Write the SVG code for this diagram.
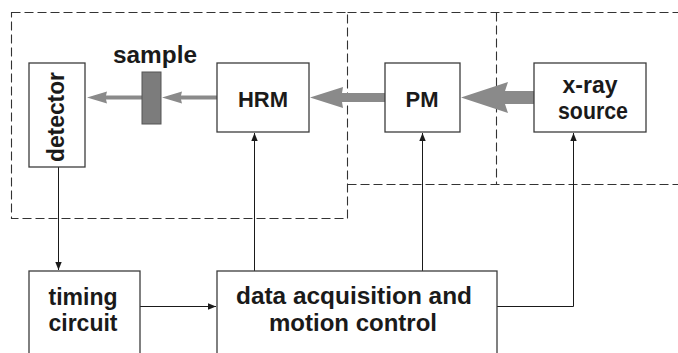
<svg xmlns="http://www.w3.org/2000/svg" width="678" height="353" viewBox="0 0 678 353">
<style>
.box{fill:#fff;stroke:#3c3c3c;stroke-width:1.3}
.dash{fill:none;stroke:#333;stroke-width:1.1;stroke-dasharray:9 4}
.conn{fill:none;stroke:#1a1a1a;stroke-width:1}
.beam{fill:#8a8a8a;stroke:none}
.lbl{font-family:"Liberation Sans",Arial,sans-serif;font-weight:bold;fill:#1a1a1a;text-anchor:middle}
</style>
<defs>
<marker id="ah" markerUnits="userSpaceOnUse" markerWidth="9" markerHeight="8" refX="8" refY="4" orient="auto">
<path d="M0,0.8 L8,4 L0,7.2 Z" fill="#1a1a1a"/>
</marker>
</defs>
<rect width="678" height="353" fill="#fff"/>
<g id="frames">
<rect class="dash" x="11.5" y="12.5" width="336" height="206"/>
<path class="dash" d="M347.5,12.5 H680 M496.5,12.5 V184.5 M347.5,184.5 H680"/>
</g>
<g id="beams">
<path class="beam" d="M534,91 H505 L508,82 L461,97.5 L508,113 L505,104 H534 Z"/>
<path class="beam" d="M385,93 H342 L343,87 L310,97.5 L343,108 L342,102 H385 Z"/>
<path class="beam" d="M217,95.5 H181 L182,91.5 L162,97.5 L182,103.5 L181,99.5 H217 Z"/>
<path class="beam" d="M142,95.5 H106 L107,91.5 L87,97.5 L107,103.5 L106,99.5 H142 Z"/>
</g>
<g id="connectors">
<path class="conn" d="M58.5,167 V270" marker-end="url(#ah)"/>
<path class="conn" d="M140,306.5 H216" marker-end="url(#ah)"/>
<path class="conn" d="M254.5,271 V133" marker-end="url(#ah)"/>
<path class="conn" d="M422.5,271 V133" marker-end="url(#ah)"/>
<path class="conn" d="M497,306.5 H573.5 V133" marker-end="url(#ah)"/>
</g>
<g id="detector">
<rect class="box" x="29" y="63" width="56" height="104"/>
<text class="lbl" x="64" y="117" font-size="23" transform="rotate(-90 64 117)" textLength="90" lengthAdjust="spacingAndGlyphs">detector</text>
</g>
<g id="sample">
<rect x="142" y="72" width="19" height="52" fill="#7c7c7c" stroke="#555" stroke-width="1"/>
<text class="lbl" x="155" y="63" font-size="23" textLength="84" lengthAdjust="spacingAndGlyphs">sample</text>
</g>
<g id="hrm">
<rect class="box" x="217" y="63" width="92" height="69"/>
<text class="lbl" x="263" y="107" font-size="22">HRM</text>
</g>
<g id="pm">
<rect class="box" x="385" y="63" width="75" height="69"/>
<text class="lbl" x="422" y="107" font-size="22">PM</text>
</g>
<g id="xray">
<rect class="box" x="534" y="63" width="112" height="69"/>
<text class="lbl" x="590" y="93" font-size="23">x-ray</text>
<text class="lbl" x="593" y="119" font-size="23" textLength="70" lengthAdjust="spacingAndGlyphs">source</text>
</g>
<g id="timing">
<rect class="box" x="29" y="271" width="111" height="95"/>
<text class="lbl" x="83" y="305" font-size="23">timing</text>
<text class="lbl" x="83" y="331" font-size="23">circuit</text>
</g>
<g id="daq">
<rect class="box" x="217" y="271" width="280" height="95"/>
<text class="lbl" x="354" y="304" font-size="23" textLength="236" lengthAdjust="spacingAndGlyphs">data acquisition and</text>
<text class="lbl" x="353" y="331" font-size="23" textLength="168" lengthAdjust="spacingAndGlyphs">motion control</text>
</g>
</svg>
